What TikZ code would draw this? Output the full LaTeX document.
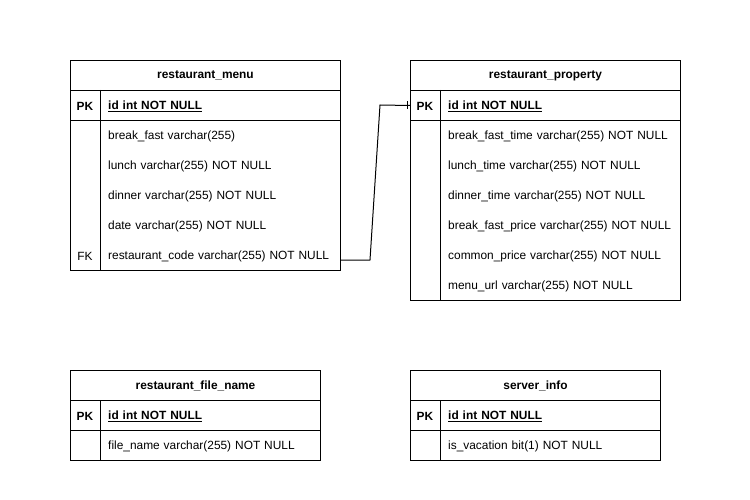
\documentclass[tikz,border=0pt]{standalone}
\usepackage{fontspec}
\setmainfont{Liberation Sans}
\begin{document}
\begin{tikzpicture}[x=1pt,y=-1pt,
  every node/.style={font=\fontsize{11.9}{14}\selectfont},
  line/.style={draw=black,line width=1pt},
  titlebox/.style={line,rectangle,anchor=north west,minimum height=30pt,inner sep=0pt,font=\fontsize{11.9}{14}\selectfont\bfseries},
  sectbox/.style={line,rectangle,anchor=north west,inner sep=0pt},
  rowbox/.style={rectangle,anchor=north west,minimum height=30pt,inner sep=0pt,inner xsep=8pt,align=left,yshift=-1.5pt},
  keytext/.style={rectangle,anchor=center,inner sep=0pt,yshift=-1.5pt},
  conn/.style={draw=black,line width=1pt}
]
\useasboundingbox (0,0) rectangle (750,500);
\fill[white] (0,0) rectangle (750,500);

% ---------- restaurant_menu ----------
\node[titlebox,minimum width=270pt] (rmT) at (70,60) {restaurant\_menu};
\node[sectbox,minimum width=270pt,minimum height=30pt] (rmP) at (70,90) {};
\node[sectbox,minimum width=270pt,minimum height=150pt] (rmF) at (70,120) {};
\draw[line] (100,90) -- (100,270);
\node[keytext,font=\fontsize{11.9}{14}\selectfont\bfseries] (rmPK) at (85,105) {PK};
\node[rowbox,text width=224pt,font=\fontsize{11.9}{14}\selectfont\bfseries] (rmR0) at (100,90) {\underline{id int NOT NULL}};
\node[rowbox,text width=224pt] (rmR1) at (100,120) {\mbox{break\_fast varchar(255)}};
\node[rowbox,text width=224pt] (rmR2) at (100,150) {\mbox{lunch varchar(255) NOT NULL}};
\node[rowbox,text width=224pt] (rmR3) at (100,180) {\mbox{dinner varchar(255) NOT NULL}};
\node[rowbox,text width=224pt] (rmR4) at (100,210) {\mbox{date varchar(255) NOT NULL}};
\node[rowbox,text width=224pt] (rmR5) at (100,240) {\mbox{restaurant\_code varchar(255) NOT NULL}};
\node[keytext] (rmFK) at (85,255) {FK};

% ---------- restaurant_property ----------
\node[titlebox,minimum width=270pt] (rpT) at (410,60) {restaurant\_property};
\node[sectbox,minimum width=270pt,minimum height=30pt] (rpP) at (410,90) {};
\node[sectbox,minimum width=270pt,minimum height=180pt] (rpF) at (410,120) {};
\draw[line] (440,90) -- (440,300);
\node[keytext,font=\fontsize{11.9}{14}\selectfont\bfseries] (rpPK) at (425,105) {PK};
\node[rowbox,text width=224pt,font=\fontsize{11.9}{14}\selectfont\bfseries] (rpR0) at (440,90) {\underline{id int NOT NULL}};
\node[rowbox,text width=224pt] (rpR1) at (440,120) {\mbox{break\_fast\_time varchar(255) NOT NULL}};
\node[rowbox,text width=224pt] (rpR2) at (440,150) {\mbox{lunch\_time varchar(255) NOT NULL}};
\node[rowbox,text width=224pt] (rpR3) at (440,180) {\mbox{dinner\_time varchar(255) NOT NULL}};
\node[rowbox,text width=224pt] (rpR4) at (440,210) {\mbox{break\_fast\_price varchar(255) NOT NULL}};
\node[rowbox,text width=224pt] (rpR5) at (440,240) {\mbox{common\_price varchar(255) NOT NULL}};
\node[rowbox,text width=224pt] (rpR6) at (440,270) {\mbox{menu\_url varchar(255) NOT NULL}};

% ---------- restaurant_file_name ----------
\node[titlebox,minimum width=250pt] (rfT) at (70,370) {restaurant\_file\_name};
\node[sectbox,minimum width=250pt,minimum height=30pt] (rfP) at (70,400) {};
\node[sectbox,minimum width=250pt,minimum height=30pt] (rfF) at (70,430) {};
\draw[line] (100,400) -- (100,460);
\node[keytext,font=\fontsize{11.9}{14}\selectfont\bfseries] (rfPK) at (85,415) {PK};
\node[rowbox,text width=204pt,font=\fontsize{11.9}{14}\selectfont\bfseries] (rfR0) at (100,400) {\underline{id int NOT NULL}};
\node[rowbox,text width=204pt] (rfR1) at (100,430) {\mbox{file\_name varchar(255) NOT NULL}};

% ---------- server_info ----------
\node[titlebox,minimum width=250pt] (siT) at (410,370) {server\_info};
\node[sectbox,minimum width=250pt,minimum height=30pt] (siP) at (410,400) {};
\node[sectbox,minimum width=250pt,minimum height=30pt] (siF) at (410,430) {};
\draw[line] (440,400) -- (440,460);
\node[keytext,font=\fontsize{11.9}{14}\selectfont\bfseries] (siPK) at (425,415) {PK};
\node[rowbox,text width=204pt,font=\fontsize{11.9}{14}\selectfont\bfseries] (siR0) at (440,400) {\underline{id int NOT NULL}};
\node[rowbox,text width=204pt] (siR1) at (440,430) {\mbox{is\_vacation bit(1) NOT NULL}};

% ---------- connector ----------
\coordinate (cA) at (370,260);
\coordinate (cB) at (380,105);
\draw[conn] ([yshift=-3.5pt]rmR5.east) -- (cA) -- (cB) -- (rpP.west);
\draw[conn] ([xshift=-3pt,yshift=4pt]rpP.west) -- ([xshift=-3pt,yshift=-4pt]rpP.west);
\end{tikzpicture}
\end{document}
